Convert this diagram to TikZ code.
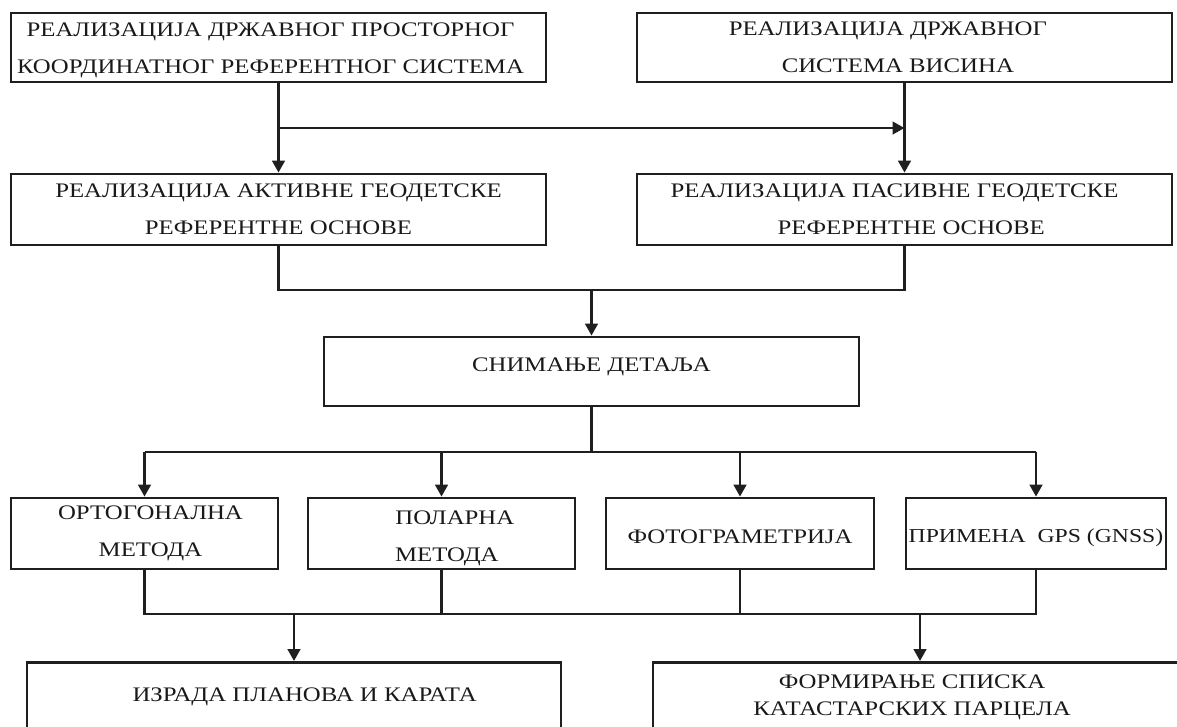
\documentclass[tikz,border=0pt]{standalone}
\usepackage{fontspec}
\setmainfont[FakeStretch=1.2]{Liberation Serif}
\usetikzlibrary{arrows.meta}
\begin{document}
\begin{tikzpicture}[x=0.75pt,y=-0.75pt,
  box/.style={draw=black!88,line width=2.1pt,rectangle,inner sep=0pt,align=center,
    font=\fontsize{15.5}{27.75}\selectfont,text=black!90},
  conn/.style={draw=black!88,line width=1.9pt},
  arr/.style={conn,-{Triangle[length=9pt,width=9.5pt]}}]
\useasboundingbox (0,0) rectangle (1177,726);
\clip (0,0) rectangle (1177,726);
% top row
\node[box,minimum width=535*0.75pt,minimum height=69*0.75pt,text height=42.8pt,text depth=4pt] (A) at (278.5,47.5)
  {РЕАЛИЗАЦИЈА ДРЖАВНОГ ПРОСТОРНОГ\hspace*{12pt}\\КООРДИНАТНОГ РЕФЕРЕНТНОГ СИСТЕМА\hspace*{12pt}};
\node[box,minimum width=535*0.75pt,minimum height=69*0.75pt,text height=42pt,text depth=4pt] (B) at (904.5,47.5)
  {РЕАЛИЗАЦИЈА ДРЖАВНОГ\hspace*{25pt}\\СИСТЕМА ВИСИНА\hspace*{10pt}};
% second row
\node[box,minimum width=535*0.75pt,minimum height=71*0.75pt] (C) at (278.5,209.5)
  {РЕАЛИЗАЦИЈА АКТИВНЕ ГЕОДЕТСКЕ\\РЕФЕРЕНТНЕ ОСНОВЕ};
\node[box,minimum width=535*0.75pt,minimum height=71*0.75pt] (D) at (904.5,209.5)
  {РЕАЛИЗАЦИЈА ПАСИВНЕ ГЕОДЕТСКЕ\hspace*{15pt}\\\hspace*{10pt}РЕФЕРЕНТНЕ ОСНОВЕ};
% third row
\node[box,minimum width=535*0.75pt,minimum height=69*0.75pt,text height=5pt,text depth=5pt] (E) at (591.5,371.5)
  {СНИМАЊЕ ДЕТАЉА};
% fourth row
\node[box,minimum width=267*0.75pt,minimum height=71*0.75pt] (F) at (144.5,533.5)
  {\hspace*{9pt}ОРТОГОНАЛНА\\\hspace*{9pt}МЕТОДА};
\node[box,minimum width=267*0.75pt,minimum height=71*0.75pt,text height=45.8pt,text depth=4pt] (G) at (441.5,533.5)
  {\hspace*{20pt}ПОЛАРНА\\\hspace*{8pt}МЕТОДА};
\node[box,minimum width=268*0.75pt,minimum height=71*0.75pt,text height=20pt,text depth=4.5pt] (H) at (740,533.5)
  {ФОТОГРАМЕТРИЈА};
\node[box,minimum width=260*0.75pt,minimum height=71*0.75pt,font=\fontsize{14.8}{20}\selectfont,text height=19.2pt,text depth=5pt] (I) at (1036,533.5)
  {ПРИМЕНА\ \ GPS (GNSS)};
% bottom row
\node[box,minimum width=534*0.75pt,minimum height=68*0.75pt,anchor=north] (J) at (294,661)
  {\hspace*{16pt}ИЗРАДА ПЛАНОВА И КАРАТА};
\node[box,minimum width=534*0.75pt,minimum height=70*0.75pt,anchor=north,font=\fontsize{15.5}{20}\selectfont] (K) at (920,661)
  {ФОРМИРАЊЕ СПИСКА\hspace*{12pt}\\КАТАСТАРСКИХ ПАРЦЕЛА\hspace*{12pt}};
% junction coordinates
\coordinate (a1) at (278.5,128);
\coordinate (b1) at (904.5,128);
\coordinate (c1) at (278.5,290);
\coordinate (d1) at (904.5,290);
\coordinate (m1) at (591.5,290);
\coordinate (e1) at (591.5,452);
\coordinate (f1) at (144.5,452);
\coordinate (g1) at (441.5,452);
\coordinate (h1) at (740,452);
\coordinate (i1) at (1036,452);
\coordinate (f2) at (144.5,614);
\coordinate (g2) at (441.5,614);
\coordinate (h2) at (740,614);
\coordinate (i2) at (1036,614);
\coordinate (j2) at (294,614);
\coordinate (k2) at (920,614);
% connectors
\draw[arr] (A.south) -- (C.north);
\draw[arr] (B.south) -- (D.north);
\draw[arr] (a1) -- (b1);
\draw[conn] (C.south) -- (c1) -- (d1) -- (D.south);
\draw[arr] (m1) -- (E.north);
\draw[conn] (E.south) -- (e1);
\draw[conn] (f1) -- (i1);
\draw[arr] (f1) -- (F.north);
\draw[arr] (g1) -- (G.north);
\draw[arr] (h1) -- (H.north);
\draw[arr] (i1) -- (I.north);
\draw[conn] (F.south) -- (f2) -- (i2) -- (I.south);
\draw[conn] (G.south) -- (g2);
\draw[conn] (H.south) -- (h2);
\draw[arr] (j2) -- (J.north);
\draw[arr] (k2) -- (K.north);
\end{tikzpicture}
\end{document}
